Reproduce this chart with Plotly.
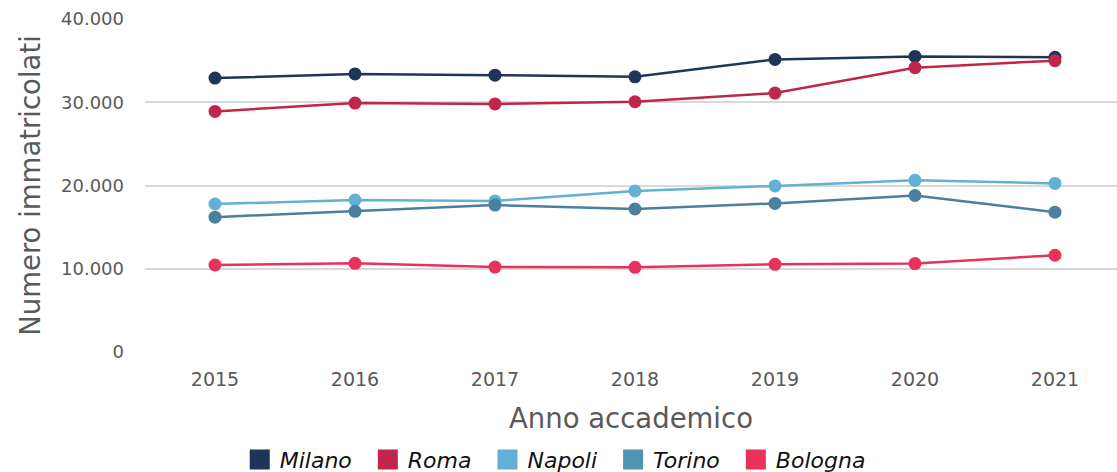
import plotly.graph_objects as go

anni = ["2015", "2016", "2017", "2018", "2019", "2020", "2021"]

milano = [32900, 33400, 33250, 33050, 35150, 35500, 35400]
roma = [28900, 29900, 29800, 30060, 31100, 34150, 35000]
napoli = [17780, 18250, 18150, 19350, 19950, 20620, 20250]
torino = [16200, 16900, 17650, 17180, 17850, 18800, 16800]
bologna = [10450, 10650, 10200, 10170, 10530, 10620, 11620]

citta = ["Milano", "Roma", "Napoli", "Torino", "Bologna"]
serie = [milano, roma, napoli, torino, bologna]
colori = ["#1f3558", "#c0264a", "#62b0d4", "#4a7fa0", "#e8325c"]
colori_legenda = ["#1f3558", "#c0264a", "#62b0d4", "#5094b0", "#e8325c"]

font = "DejaVu Sans"
grigio = "#595959"

fig = go.Figure()

for nome, valori, col in zip(citta, serie, colori):
    fig.add_trace(go.Scatter(
        x=anni, y=valori, name=nome, mode="lines+markers",
        line=dict(color=col, width=2.5),
        marker=dict(color=col, size=13),
        showlegend=False, cliponaxis=False,
    ))

# quadratini della legenda (spazio finale per distanziare le voci)
for nome, col in zip(citta, colori_legenda):
    fig.add_trace(go.Scatter(
        x=[None], y=[None], name=nome + "\u2002", mode="markers",
        marker=dict(color=col, size=16, symbol="square",
                    line=dict(color=col, width=4)),
    ))

fig.update_layout(
    width=1117, height=472,
    margin=dict(l=145, r=0, t=19, b=120),
    plot_bgcolor="white", paper_bgcolor="white",
    separators=",.",
    font=dict(family=font, color=grigio),
    legend=dict(
        orientation="h", xref="container", yref="container",
        x=0.502, xanchor="center", y=0.026, yanchor="middle",
        font=dict(family=font, size=22, color="#111111", style="italic"),
        itemwidth=30, tracegroupgap=0,
    ),
)

fig.update_xaxes(
    type="category", range=[-0.5, 6.443], automargin=False,
    showgrid=False, showline=False, zeroline=False,
    ticks="", tickfont=dict(size=19, color=grigio), ticklabelstandoff=14,
    title=dict(text="Anno accademico", font=dict(size=27.5, color=grigio), standoff=19),
)

fig.update_yaxes(
    range=[0, 40000], tickvals=[0, 10000, 20000, 30000, 40000],
    tickformat=",d", automargin=False,
    showgrid=True, gridcolor="#d9d9d9", gridwidth=2,
    zeroline=False, showline=False, ticks="",
    tickfont=dict(size=18, color=grigio), ticklabelstandoff=20,
    title=dict(text="Numero immatricolati", font=dict(size=27.5, color=grigio), standoff=12),
)

fig.write_html("out.html", config={"displayModeBar": False},
               post_script="document.body.style.margin='0';")
